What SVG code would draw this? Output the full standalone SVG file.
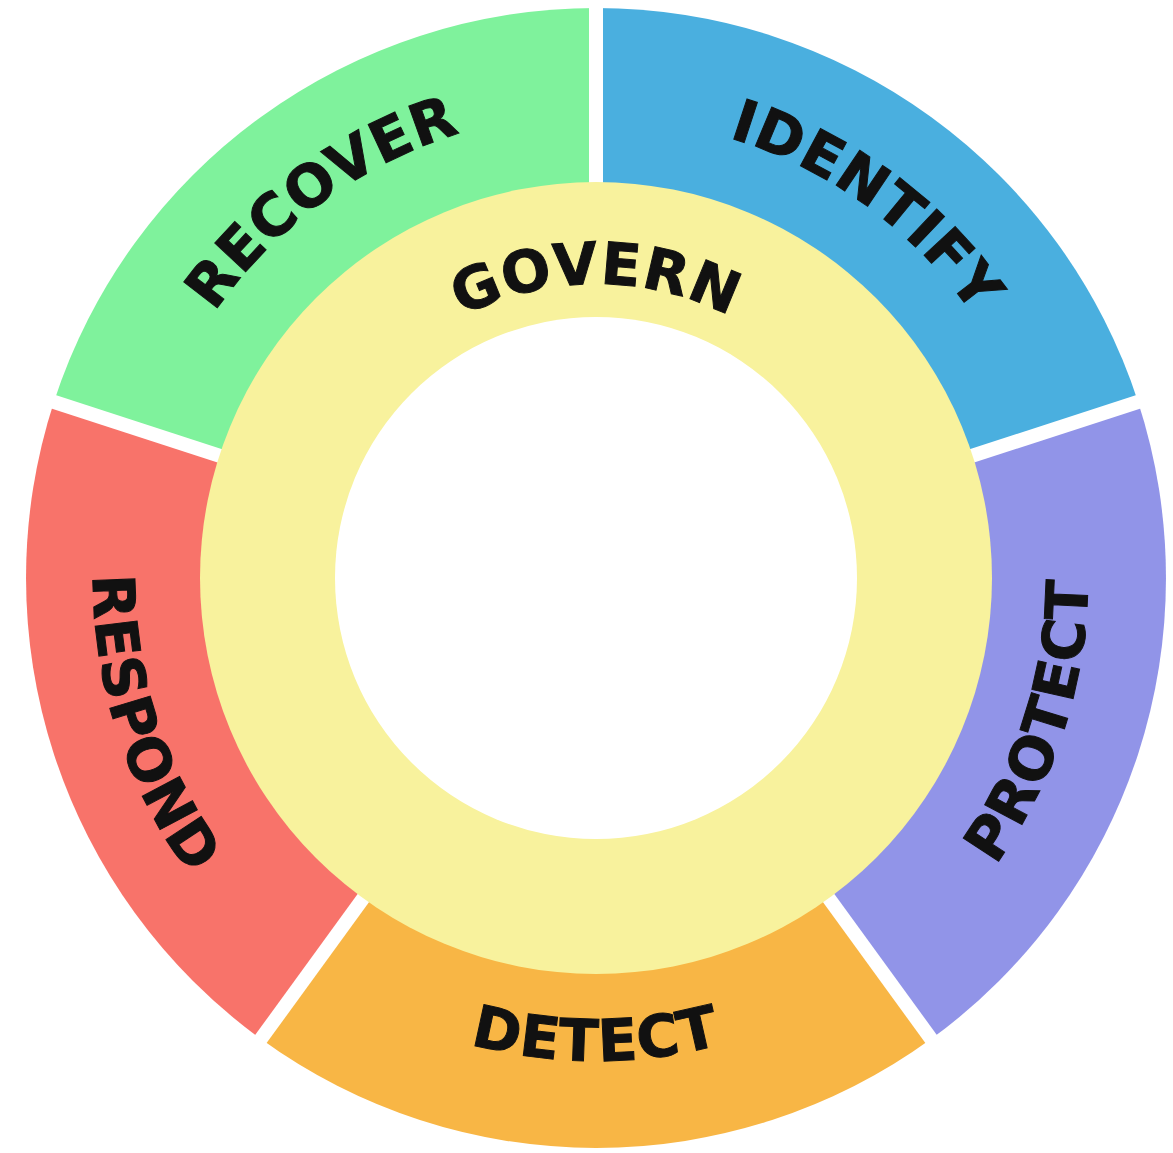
<svg xmlns="http://www.w3.org/2000/svg" width="1173" height="1153" viewBox="0 0 1173 1153">
  <style>
    .lbl { font-family: "DejaVu Sans", "Liberation Sans", sans-serif; font-weight: bold; font-size: 58px; fill: #111111; stroke: #111111; stroke-width: 1px; letter-spacing: 1px; }
    .sep { stroke: #ffffff; stroke-width: 14; }
  </style>
  <defs>
    <path id="p-govern" d="M 306.47 526.95 A 294 294 0 0 1 885.53 526.95"/>
    <path id="p-recover" d="M 178.06 781.84 A 465 465 0 0 1 919.02 243.51"/>
    <path id="p-identify" d="M 276.46 247.10 A 460 460 0 0 1 1009.44 779.65"/>
    <path id="p-protect" d="M 527.53 1065.21 A 492 492 0 0 0 826.98 143.59"/>
    <path id="p-detect" d="M 120.34 661.87 A 483 483 0 0 0 1071.66 661.87"/>
    <path id="p-respond" d="M 359.86 133.88 A 503 503 0 0 0 666.00 1076.11"/>
  </defs>
  <rect width="1173" height="1153" fill="#ffffff"/>

  <g id="identify">
    <path d="M 596 578 L 596 8 A 570 570 0 0 1 1138.1 401.9 Z" fill="#4AAFDF"/>
  </g>
  <g id="protect">
    <path d="M 596 578 L 1138.1 401.9 A 570 570 0 0 1 931.0 1039.1 Z" fill="#9194E8"/>
  </g>
  <g id="detect">
    <path d="M 596 578 L 931.0 1039.1 A 570 570 0 0 1 261.0 1039.1 Z" fill="#F8B645"/>
  </g>
  <g id="respond">
    <path d="M 596 578 L 261.0 1039.1 A 570 570 0 0 1 53.9 401.9 Z" fill="#F8736A"/>
  </g>
  <g id="recover">
    <path d="M 596 578 L 53.9 401.9 A 570 570 0 0 1 596 8 Z" fill="#7FF29C"/>
  </g>

  <g id="separators">
    <line class="sep" x1="596" y1="578" x2="596" y2="-10"/>
    <line class="sep" x1="596" y1="578" x2="1167" y2="392.5"/>
    <line class="sep" x1="596" y1="578" x2="949" y2="1063.6"/>
    <line class="sep" x1="596" y1="578" x2="243" y2="1063.6"/>
    <line class="sep" x1="596" y1="578" x2="25" y2="392.5"/>
  </g>

  <g id="govern">
    <circle cx="596" cy="578" r="396" fill="#F8F29D"/>
    <circle cx="596" cy="578" r="261" fill="#ffffff"/>
    <text class="lbl"><textPath href="#p-govern" startOffset="50%" text-anchor="middle">GOVERN</textPath></text>
  </g>

  <g id="labels">
    <text class="lbl"><textPath href="#p-recover" startOffset="50%" text-anchor="middle">RECOVER</textPath></text>
    <text class="lbl"><textPath href="#p-identify" startOffset="50%" text-anchor="middle">IDENTIFY</textPath></text>
    <text class="lbl"><textPath href="#p-protect" startOffset="50%" text-anchor="middle">PROTECT</textPath></text>
    <text class="lbl"><textPath href="#p-detect" startOffset="50%" text-anchor="middle">DETECT</textPath></text>
    <text class="lbl"><textPath href="#p-respond" startOffset="50%" text-anchor="middle">RESPOND</textPath></text>
  </g>
</svg>
